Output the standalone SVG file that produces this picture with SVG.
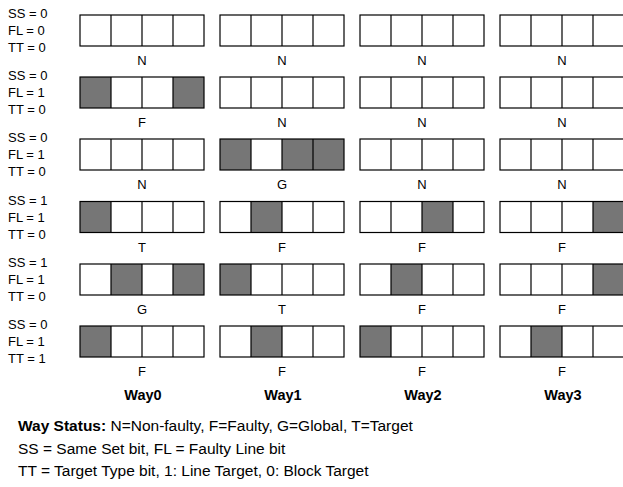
<svg xmlns="http://www.w3.org/2000/svg" xmlns:xlink="http://www.w3.org/1999/xlink" width="623" height="487" viewBox="0 0 623 487">
<style>
text{font-family:"Liberation Sans",Arial,sans-serif;fill:#000}
.lab{font-size:13px}
.st{font-size:13px;text-anchor:middle}
.way{font-size:14.5px;font-weight:bold;text-anchor:middle}
.leg{font-size:15.5px}
.g{fill:#767676}
.frame{fill:none;stroke:#000;stroke-width:1.2}
</style>
<defs>
<g id="frame"><rect class="frame" x="0" y="0" width="124" height="31"/><path class="frame" d="M31 0V31M62 0V31M93 0V31"/></g>
<rect id="c" class="g" width="31" height="31"/>
</defs>
<rect width="623" height="487" fill="#fff"/>

<g id="row1">
<text class="lab" x="8" y="18">SS = 0</text><text class="lab" x="8" y="35">FL = 0</text><text class="lab" x="8" y="52">TT = 0</text>
<g id="r1w0" transform="translate(80,15)"><use xlink:href="#frame"/><text class="st" x="62" y="50">N</text></g>
<g id="r1w1" transform="translate(220,15)"><use xlink:href="#frame"/><text class="st" x="62" y="50">N</text></g>
<g id="r1w2" transform="translate(360,15)"><use xlink:href="#frame"/><text class="st" x="62" y="50">N</text></g>
<g id="r1w3" transform="translate(500,15)"><use xlink:href="#frame"/><text class="st" x="62" y="50">N</text></g>
</g>

<g id="row2">
<text class="lab" x="8" y="80">SS = 0</text><text class="lab" x="8" y="97">FL = 1</text><text class="lab" x="8" y="114">TT = 0</text>
<g id="r2w0" transform="translate(80,77)"><use xlink:href="#c"/><use xlink:href="#c" x="93"/><use xlink:href="#frame"/><text class="st" x="62" y="50">F</text></g>
<g id="r2w1" transform="translate(220,77)"><use xlink:href="#frame"/><text class="st" x="62" y="50">N</text></g>
<g id="r2w2" transform="translate(360,77)"><use xlink:href="#frame"/><text class="st" x="62" y="50">N</text></g>
<g id="r2w3" transform="translate(500,77)"><use xlink:href="#frame"/><text class="st" x="62" y="50">N</text></g>
</g>

<g id="row3">
<text class="lab" x="8" y="142">SS = 0</text><text class="lab" x="8" y="159">FL = 1</text><text class="lab" x="8" y="176">TT = 0</text>
<g id="r3w0" transform="translate(80,139)"><use xlink:href="#frame"/><text class="st" x="62" y="50">N</text></g>
<g id="r3w1" transform="translate(220,139)"><use xlink:href="#c"/><use xlink:href="#c" x="62"/><use xlink:href="#c" x="93"/><use xlink:href="#frame"/><text class="st" x="62" y="50">G</text></g>
<g id="r3w2" transform="translate(360,139)"><use xlink:href="#frame"/><text class="st" x="62" y="50">N</text></g>
<g id="r3w3" transform="translate(500,139)"><use xlink:href="#frame"/><text class="st" x="62" y="50">N</text></g>
</g>

<g id="row4">
<text class="lab" x="8" y="204.5">SS = 1</text><text class="lab" x="8" y="221.5">FL = 1</text><text class="lab" x="8" y="238.5">TT = 0</text>
<g id="r4w0" transform="translate(80,201.5)"><use xlink:href="#c"/><use xlink:href="#frame"/><text class="st" x="62" y="50">T</text></g>
<g id="r4w1" transform="translate(220,201.5)"><use xlink:href="#c" x="31"/><use xlink:href="#frame"/><text class="st" x="62" y="50">F</text></g>
<g id="r4w2" transform="translate(360,201.5)"><use xlink:href="#c" x="62"/><use xlink:href="#frame"/><text class="st" x="62" y="50">F</text></g>
<g id="r4w3" transform="translate(500,201.5)"><use xlink:href="#c" x="93"/><use xlink:href="#frame"/><text class="st" x="62" y="50">F</text></g>
</g>

<g id="row5">
<text class="lab" x="8" y="267">SS = 1</text><text class="lab" x="8" y="284">FL = 1</text><text class="lab" x="8" y="301">TT = 0</text>
<g id="r5w0" transform="translate(80,264)"><use xlink:href="#c" x="31"/><use xlink:href="#c" x="93"/><use xlink:href="#frame"/><text class="st" x="62" y="50">G</text></g>
<g id="r5w1" transform="translate(220,264)"><use xlink:href="#c"/><use xlink:href="#frame"/><text class="st" x="62" y="50">T</text></g>
<g id="r5w2" transform="translate(360,264)"><use xlink:href="#c" x="31"/><use xlink:href="#frame"/><text class="st" x="62" y="50">F</text></g>
<g id="r5w3" transform="translate(500,264)"><use xlink:href="#c" x="93"/><use xlink:href="#frame"/><text class="st" x="62" y="50">F</text></g>
</g>

<g id="row6">
<text class="lab" x="8" y="329">SS = 0</text><text class="lab" x="8" y="346">FL = 1</text><text class="lab" x="8" y="363">TT = 1</text>
<g id="r6w0" transform="translate(80,326)"><use xlink:href="#c"/><use xlink:href="#frame"/><text class="st" x="62" y="50">F</text></g>
<g id="r6w1" transform="translate(220,326)"><use xlink:href="#c" x="31"/><use xlink:href="#frame"/><text class="st" x="62" y="50">F</text></g>
<g id="r6w2" transform="translate(360,326)"><use xlink:href="#c"/><use xlink:href="#frame"/><text class="st" x="62" y="50">F</text></g>
<g id="r6w3" transform="translate(500,326)"><use xlink:href="#c" x="31"/><use xlink:href="#frame"/><text class="st" x="62" y="50">F</text></g>
</g>

<g id="waylabels">
<text class="way" x="143" y="400">Way0</text>
<text class="way" x="283" y="400">Way1</text>
<text class="way" x="423" y="400">Way2</text>
<text class="way" x="563" y="400">Way3</text>
</g>

<g id="legend">
<text class="leg" x="18" y="431"><tspan font-weight="bold">Way Status:</tspan> N=Non-faulty, F=Faulty, G=Global, T=Target</text>
<text class="leg" x="18" y="454">SS = Same Set bit, FL = Faulty Line bit</text>
<text class="leg" x="18" y="476">TT = Target Type bit, 1: Line Target, 0: Block Target</text>
</g>
</svg>
